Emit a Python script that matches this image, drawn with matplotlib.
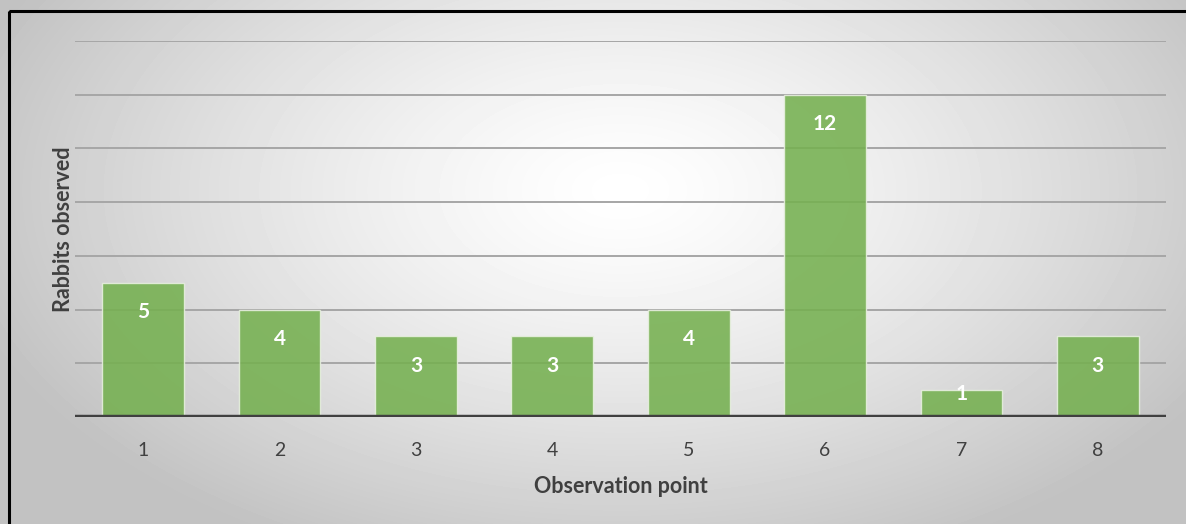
import numpy as np
import matplotlib.pyplot as plt
from matplotlib.patches import Rectangle

# rabbit counts at each observation point
points = [1, 2, 3, 4, 5, 6, 7, 8]
rabbits = [5, 4, 3, 3, 4, 12, 1, 3]
grid_levels = [2, 4, 6, 8, 10, 12, 14]

plt.rcParams['font.family'] = ['Lato', 'DejaVu Sans']

fig = plt.figure(figsize=(11.86, 5.24), dpi=100)

# radial grey-to-white background
bg = fig.add_axes([0, 0, 1, 1], zorder=-2)
yy, xx = np.mgrid[0:524, 0:1186]
r = np.sqrt(((xx - 620) / 680.0) ** 2 + ((yy - 190) / 400.0) ** 2)
shade = 1.0 - 0.24 * np.clip(r, 0, 1) ** 1.3
bg.imshow(shade, cmap='gray', vmin=0, vmax=1, aspect='auto', extent=[0, 1186, 524, 0])
bg.add_patch(Rectangle((9, 11), 1200, 600, fill=False, edgecolor='black', linewidth=2.2))
bg.set_xlim(0, 1186)
bg.set_ylim(524, 0)
bg.axis('off')

ax = fig.add_axes([75 / 1186, 107 / 524, 1091 / 1186, 376 / 524])
ax.patch.set_alpha(0)

for g in grid_levels:
    ax.axhline(g, color='#a6a6a6', linewidth=1.4, zorder=1)

bars = ax.bar(points, rabbits, width=0.6, color='#75b050', alpha=0.88,
              edgecolor='#e8f0e0', linewidth=1.0, zorder=2)
ax.axhline(0, color='#404040', linewidth=3.2, zorder=3)

for x, v in zip(points, rabbits):
    ax.text(x, max(v - 1.1, 0.86), str(v), ha='center', va='center',
            color='white', fontsize=15, fontweight='bold', zorder=4)

ax.set_xlim(0.5, 8.5)
ax.set_ylim(0, 14)
ax.set_xticks(points)
ax.set_xticklabels([str(p) for p in points], fontsize=14, color='#404040')
ax.tick_params(axis='x', length=0, pad=18)
ax.set_yticks([])
for s in ax.spines.values():
    s.set_visible(False)

ax.set_xlabel('Observation point', fontsize=15.5, fontweight='bold', color='#404040', labelpad=12)
ax.set_ylabel('Rabbits observed', fontsize=15.5, fontweight='bold', color='#404040', labelpad=1)

plt.savefig('out.png', dpi=100)
